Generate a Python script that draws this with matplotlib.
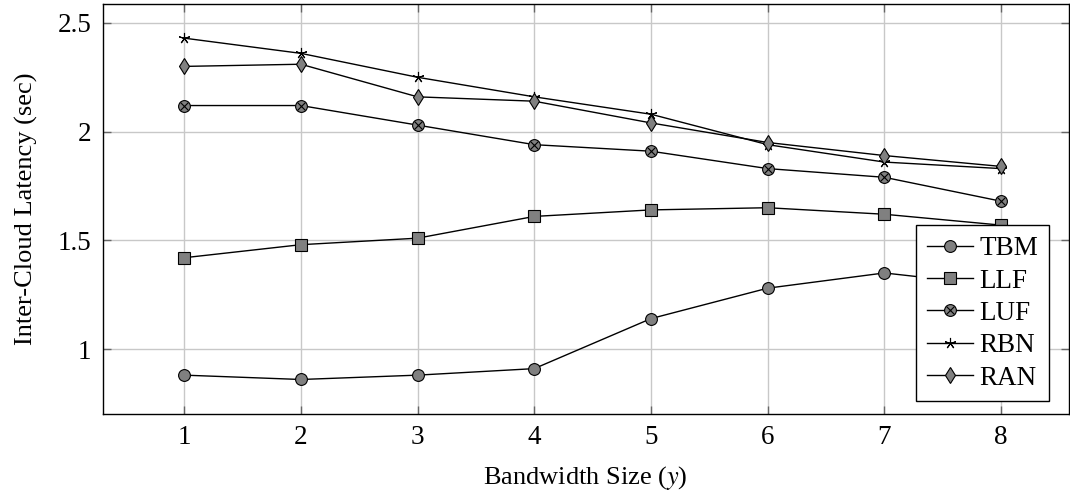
import numpy as np
import matplotlib
matplotlib.use('Agg')
import matplotlib.pyplot as plt

plt.rcParams['font.family'] = ['Liberation Serif', 'DejaVu Serif']
plt.rcParams['mathtext.fontset'] = 'stix'

# data
bandwidth = [1, 2, 3, 4, 5, 6, 7, 8]
tbm = [0.88, 0.86, 0.88, 0.91, 1.14, 1.28, 1.35, 1.29]
llf = [1.42, 1.48, 1.51, 1.61, 1.64, 1.65, 1.62, 1.57]
luf = [2.12, 2.12, 2.03, 1.94, 1.91, 1.83, 1.79, 1.68]
rbn = [2.43, 2.36, 2.25, 2.16, 2.08, 1.94, 1.86, 1.83]
ran = [2.30, 2.31, 2.16, 2.14, 2.04, 1.95, 1.89, 1.84]

gray = '#808080'

fig = plt.figure(figsize=(10.7, 4.93), dpi=100)
ax = fig.add_axes([0.0958, 0.161, 0.903, 0.830])

lw = 1.0
h_tbm, = ax.plot(bandwidth, tbm, color='black', lw=lw, marker='o', ms=8.5,
                 mfc=gray, mec='black', mew=0.8, label='TBM')
h_llf, = ax.plot(bandwidth, llf, color='black', lw=lw, marker='s', ms=8,
                 mfc=gray, mec='black', mew=0.8, label='LLF')
h_luf, = ax.plot(bandwidth, luf, color='black', lw=lw, marker='o', ms=8.5,
                 mfc=gray, mec='black', mew=0.8)
h_luf_x, = ax.plot(bandwidth, luf, ls='none', marker='x', ms=5.5,
                   mec='black', mew=0.8)
h_rbn, = ax.plot(bandwidth, rbn, color='black', lw=lw, marker=(5, 2, 0), ms=8,
                 mec='black', mew=0.8, label='RBN')
h_ran, = ax.plot(bandwidth, ran, color='black', lw=lw, marker='d', ms=8.5,
                 mfc=gray, mec='black', mew=0.8, label='RAN')

ax.set_xlim(0.30, 8.58)
ax.set_ylim(0.703, 2.585)
ax.set_xticks(bandwidth)
ax.set_yticks([1, 1.5, 2, 2.5])
ax.set_yticklabels(['1', '1.5', '2', '2.5'])
ax.grid(True, color='#c8c8c8', lw=1.0)
ax.set_axisbelow(True)
ax.tick_params(direction='in', top=True, right=True, length=6, width=1,
               color='#666666', labelsize=19.5, pad=8)
for s in ax.spines.values():
    s.set_linewidth(1.0)

ax.set_xlabel('Bandwidth Size ($y$)', fontsize=19, labelpad=10)
ax.set_ylabel('Inter-Cloud Latency (sec)', fontsize=19, labelpad=14)

leg = ax.legend([h_tbm, h_llf, (h_luf, h_luf_x), h_rbn, h_ran],
                ['TBM', 'LLF', 'LUF', 'RBN', 'RAN'],
                loc='lower right', bbox_to_anchor=(0.98, 0.03),
                fontsize=19.5, fancybox=False, framealpha=1, edgecolor='black',
                handlelength=1.7, borderpad=0.4, labelspacing=0.27,
                handletextpad=0.25, borderaxespad=0)
leg.get_frame().set_linewidth(1.0)

fig.savefig('out.png', dpi=100)
